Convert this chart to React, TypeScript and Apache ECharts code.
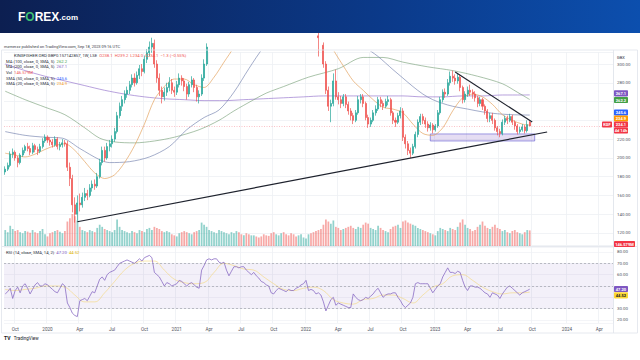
import React, { useEffect, useRef } from "react";
import * as echarts from "echarts";

// ---------- DATA ----------
const START_UTC = Date.UTC(2019, 8, 2); // first weekly bar (Mon)
const DAY = 86400000;
const AXIS_WEEKS = 245; // axis runs into 2024

// weekly candles [open, close, low, high] (GBX)
const ohlc: number[][] = [
  [185,188,182,191],[188,192,186,195],[192,204,190,207],[204,206,200,210],[206,200,197,208],[200,195,190,202],[195,203,193,205],[203,208,201,211],[208,212,205,214],[212,210,207,216],
  [210,206,203,213],[206,213,204,216],[213,209,206,215],[209,207,203,212],[207,212,205,215],[212,218,210,221],[218,222,216,225],[222,219,216,224],[219,217,213,222],[217,214,211,220],
  [214,220,212,223],[220,212,209,222],[212,214,208,217],[214,216,211,220],[216,215,212,219],[215,190,186,218],[190,178,170,195],[178,150,142,182],[150,140,131,158],[140,152,133,160],
  [152,150,143,162],[150,158,147,163],[158,162,154,168],[162,160,155,166],[160,168,158,172],[168,172,164,176],[172,170,166,177],[170,180,168,184],[180,195,178,199],[195,208,192,212],
  [208,200,196,212],[200,212,198,216],[212,215,207,219],[215,220,211,224],[220,228,217,232],[228,245,226,249],[245,255,242,259],[255,262,250,266],[262,268,258,272],[268,272,264,276],
  [272,278,268,282],[278,285,275,289],[285,280,276,290],[280,288,278,292],[288,295,284,299],[295,292,287,300],[292,305,290,309],[305,312,301,316],[312,318,308,324],[318,322,312,328],
  [322,300,296,326],[300,285,280,304],[285,272,266,290],[272,265,258,276],[265,270,261,275],[270,275,266,280],[275,280,271,286],[280,272,268,284],[272,270,265,276],[270,278,267,282],
  [278,285,275,290],[285,282,277,288],[282,276,271,285],[276,268,262,279],[268,278,265,281],[278,283,275,287],[283,275,270,285],[275,265,260,278],[265,268,258,272],[268,285,266,289],
  [285,300,282,305],[300,318,298,322],[318,325,314,330],[325,330,320,335],[330,335,326,340],[335,340,330,345],[340,345,335,350],[345,355,341,360],[355,360,350,365],[360,365,355,370],
  [365,368,360,373],[368,372,363,377],[372,380,368,385],[380,385,375,392],[385,375,370,388],[375,372,366,380],[372,378,368,382],[378,365,360,380],[365,360,354,368],[360,370,357,374],
  [370,375,365,380],[375,372,367,378],[372,368,362,376],[368,360,355,370],[360,355,350,363],[355,345,340,358],[345,342,336,349],[342,338,332,346],[338,335,330,342],[335,340,331,344],
  [340,345,336,349],[345,350,341,354],[350,348,343,353],[348,340,336,351],[340,338,333,344],[338,335,330,341],[335,332,327,339],[332,330,325,336],[330,335,327,338],[335,338,331,342],
  [338,340,334,344],[340,342,336,346],[342,345,338,349],[345,340,335,348],[340,335,330,343],[335,330,325,338],[330,328,308,334],[328,320,314,331],[320,300,296,323],[300,272,268,303],
  [272,255,250,276],[255,258,238,262],[258,282,255,290],[282,265,262,294],[265,262,257,270],[262,258,253,266],[258,265,255,268],[265,257,253,268],[257,250,246,260],[250,245,240,253],
  [245,240,236,248],[240,248,238,251],[248,262,246,266],[262,265,258,268],[265,258,254,268],[258,243,240,260],[243,236,232,246],[236,240,233,243],[240,248,238,251],[248,252,245,256],
  [252,262,250,265],[262,258,254,265],[258,255,251,261],[255,260,253,263],[260,262,256,266],[262,248,245,264],[248,240,236,250],[240,238,233,243],[238,245,236,248],[245,250,242,254],
  [250,222,218,253],[222,215,210,225],[215,208,203,218],[208,205,200,211],[205,212,203,215],[212,225,210,228],[225,238,222,241],[238,244,235,247],[244,240,236,247],[240,236,232,243],
  [236,232,228,239],[232,235,229,238],[235,230,226,237],[230,234,228,236],[234,248,232,251],[248,262,246,265],[262,270,259,273],[270,268,264,274],[268,280,266,284],[280,287,277,292],
  [287,285,281,293],[285,282,278,289],[282,286,279,290],[286,275,271,288],[275,262,258,277],[262,268,259,271],[268,272,265,276],[272,270,266,278],[270,268,263,273],[268,264,260,271],
  [264,258,254,266],[258,262,255,265],[262,255,251,264],[255,250,246,257],[250,242,238,252],[242,245,238,248],[245,240,236,248],[240,232,229,242],[232,228,224,234],[228,226,222,231],
  [226,238,224,241],[238,242,235,245],[242,240,236,245],[240,244,238,247],[244,238,235,246],[238,234,230,240],[234,228,225,236],[228,230,226,233],[230,233,228,236],[233,229,226,235],[229,235.4,227,240],[238.1,234.1,234.0,239.2],
];

// weekly volume, millions
const volumeM: number[] = [
  150,130,190,160,140,150,130,120,140,135,125,150,130,120,140,160,110,90,
  120,130,140,150,135,120,140,230,260,300,280,240,
  180,150,140,130,150,140,130,170,200,180,160,150,140,130,
  150,250,180,150,140,130,120,140,130,120,150,140,130,160,170,150,
  180,170,160,140,130,140,130,110,100,90,
  120,130,140,130,120,110,130,140,150,220,200,180,
  150,140,130,120,150,140,130,120,110,130,120,140,130,110,100,120,110,100,
  100,90,80,90,110,100,95,120,130,110,100,120,130,110,100,120,110,90,100,110,80,70,110,120,130,140,
  150,160,200,250,230,210,240,180,170,150,160,170,180,190,170,160,180,170,200,220,
  210,170,160,150,190,170,150,140,130,160,180,190,200,170,230,240,220,210,200,190,
  170,160,150,140,130,120,110,100,140,170,160,150,140,170,160,150,180,220,250,200,
  170,160,140,150,180,200,230,190,170,160,180,200,170,160,140,150,130,120,140,150,130,120,110,130,150,146.579,
];

// RSI(14) weekly
const rsi: number[] = [
  43,45,48,39,46,49,44,50,52,48,
  43,47,51,53,50,50,52,51,49,47,
  45,44,48,52,50,35,31,26,24,23,
  37,38,39,37,41,45,44,50,56,58,
  55,60,62,63,64,67,70,71,72,73,
  72,71,70,72,74,72,75,76,77,75,
  62,60,58,54,50,53,52,50,51,52,
  55,54,52,50,52,53,51,49,48,64,
  68,73,74,73,74,74,71,70,71,64,
  59,63,67,67,66,67,67,64,62,60,
  62,59,57,54,53,51,50,44,43,46,
  48,47,46,45,47,46,46,48,49,51,
  52,55,46,47,46,43,44,42,36,28,
  33,38,40,33,35,34,33,32,31,31,
  43,40,38,37,38,40,39,41,43,46,
  48,44,40,42,43,43,44,44,40,37,
  33,31,33,35,40,52,53,52,52,52,
  52,48,44,47,50,52,58,62,66,62,
  62,61,63,62,55,49,46,50,50,49,
  49,48,46,44,43,40,44,43,42,39,
  43,46,49,50,48,46,44,42,44,45,46,47.2,
];

// [week index, value] samples
const rsiMa: number[][] = [[0,47],[4,46],[8,47],[12,48],[16,50],[20,50],[24,49],[28,42],[32,36],[36,36],[40,44],[44,54],[48,64],[52,70],[56,72],[60,72],[64,64],[68,56],[72,53],[76,52],[80,53],[84,62],[88,70],[92,68],[96,65],[100,64],[104,58],[108,52],[112,47],[116,46],[120,48],[124,49],[128,46],[132,38],[136,35],[140,34],[144,38],[148,39],[152,42],[156,42],[160,39],[164,35],[168,42],[172,49],[176,52],[180,59],[184,60],[188,55],[192,49],[196,45],[200,43],[204,44],[208,44],[211,44.52]];
const ma20: number[][] = [[0,205],[4,203],[8,201],[12,204],[16,209],[20,213],[24,215],[28,208],[32,196],[36,184],[40,178],[44,182],[48,195],[52,213],[56,236],[60,262],[64,276],[68,284],[72,284],[76,278],[80,275],[84,286],[88,302],[92,318],[96,338],[100,355],[104,366],[108,368],[112,360],[116,350],[120,342],[124,338],[128,335],[132,315],[136,298],[140,282],[144,272],[148,262],[152,254],[156,252],[160,248],[164,236],[168,226],[172,224],[176,232],[180,250],[184,264],[188,268],[192,265],[196,257],[200,246],[204,240],[208,236],[211,234.9]];
const ma50: number[][] = [[0,228],[8,224],[16,222],[23,221],[30,210],[38,198],[42,195],[50,196],[58,201],[66,212],[73,230],[80,243],[86,251],[92,270],[98,295],[104,318],[112,340],[120,352],[126,355],[132,350],[138,340],[144,320],[150,308],[156,294],[160,285],[164,276],[168,268],[172,262],[176,258],[180,255],[186,252],[192,249],[198,247],[204,246],[211,245.6]];
const ma100: number[][] = [[0,271],[8,262],[16,254],[24,246],[32,232],[38,221],[44,217],[52,216],[60,218],[68,222],[78,230],[86,240],[92,250],[100,262],[105,269],[112,276],[122,286],[134,295],[144,307],[152,307],[160,302],[170,297],[180,293],[190,287],[200,279],[206,270],[211,262.2]];
const ma200: number[][] = [[0,300],[8,293],[16,287],[24,282],[32,277],[40,272],[48,268],[56,265],[64,263],[72,262],[80,261],[88,261],[96,262],[104,263],[112,264],[120,265],[128,266],[136,266],[144,266],[152,266],[160,266],[168,265],[176,265],[184,266],[192,266],[200,267],[208,267],[211,267.1]];

// drawings: [week index, price]
const trendUp = [[29, 132], [218, 227.6]];
const trendDown = [[181, 291.5], [212, 238.2]];
const zoneBox = [[171, 225.5], [213, 218]];
const lastPrice = 234.1;
const rsiLevels = [70, 50, 30];
// axis labels that sit under the value tags in the reference
const hiddenPriceLabels = [240, 260];
const hiddenRsiLabels = [40, 50];

// ---------- helpers ----------
const FONT = 'Roboto, "Noto Sans", "DejaVu Sans", sans-serif';
const UP = "#26a69a";
const DN = "#ef5350";
const weekLabels = Array.from({ length: AXIS_WEEKS }, (_, k) =>
  new Date(START_UTC + k * 7 * DAY).toISOString().slice(0, 10)
);
const weekEnd = (k: number) => new Date(START_UTC + k * 7 * DAY + 6 * DAY);
const isQuarter = (k: number) => {
  const e = weekEnd(k);
  return e.getUTCDate() <= 7 && e.getUTCMonth() % 3 === 0;
};
const quarterLabel = (k: number) => {
  const e = weekEnd(k);
  const m = e.getUTCMonth();
  if (m === 0) return String(e.getUTCFullYear());
  return ["", "Apr", "Jul", "Oct"][m / 3];
};
const toCat = (pts: number[][]) => pts.map(([k, v]) => [weekLabels[k], v]);

const txt = (x: number, y: number, text: string, fill: string, size: number, extra: any = {}) => ({
  type: "text",
  z: 50,
  silent: true,
  style: { text, x, y, fill, fontSize: size, fontFamily: FONT, verticalAlign: "middle", textVerticalAlign: "middle", ...extra },
});
const richTxt = (x: number, y: number, text: string, rich: any) => ({
  type: "text",
  z: 50,
  silent: true,
  style: { text, x, y, fontSize: 4.2, fontFamily: FONT, verticalAlign: "middle", textVerticalAlign: "middle", rich },
});
const tag = (x: number, y: number, w: number, text: string, bg: string, fg = "#ffffff") => [
  { type: "rect", z: 60, silent: true, shape: { x, y: y - 3.1, width: w, height: 6.2, r: 0.8 }, style: { fill: bg } },
  {
    type: "text", z: 61, silent: true,
    style: { text, x: x + w / 2, y, fill: fg, fontSize: 4, fontFamily: FONT, fontWeight: "bold", align: "center", textAlign: "center", verticalAlign: "middle", textVerticalAlign: "middle" },
  },
];

const R = (c: string) => ({ fill: c, fontSize: 4.2, fontFamily: FONT });

export default function App() {
  const ref = useRef<HTMLDivElement>(null);
  useEffect(() => {
    document.body.style.margin = "0";
    if (!ref.current) return;
    const chart = echarts.init(ref.current, undefined, { renderer: "svg" });

    const splitX = { show: true, interval: (i: number) => isQuarter(i), lineStyle: { color: "#eef0f4", width: 0.8 } };
    const volData = volumeM.map((v, k) => ({
      value: v,
      itemStyle: { color: ohlc[k][1] >= ohlc[k][0] ? "rgba(38,166,154,0.5)" : "rgba(239,83,80,0.5)" },
    }));
    const maLine = (data: number[][], color: string) => ({
      type: "line", xAxisIndex: 0, yAxisIndex: 0, data: toCat(data), symbol: "none", smooth: 0.3,
      connectNulls: true, silent: true, z: 2, lineStyle: { color, width: 0.9 },
    });
    const blackLine = { color: "#1e222d", width: 1.2, type: "solid" };

    const graphics: any[] = [
      {
        type: "rect", z: 40, silent: true, shape: { x: 0, y: 0, width: 640, height: 33 },
        style: { fill: new echarts.graphic.LinearGradient(0, 0, 1, 0, [{ offset: 0, color: "#0c1f51" }, { offset: 0.6, color: "#0b3a8a" }, { offset: 1, color: "#0c4fae" }]) },
      },
      {
        type: "text", z: 50, silent: true,
        style: {
          x: 18, y: 17, verticalAlign: "middle", textVerticalAlign: "middle",
          text: "{w|F}{g|O}{w|REX}{s|.com}",
          rich: {
            w: { fill: "#ffffff", fontSize: 12, fontWeight: "bold", fontFamily: '"Liberation Sans", Arial, sans-serif' },
            g: { fill: "#3fbf74", fontSize: 12, fontWeight: "bold", fontFamily: '"Liberation Sans", Arial, sans-serif' },
            s: { fill: "#ffffff", fontSize: 8, fontWeight: "bold", fontFamily: '"Liberation Sans", Arial, sans-serif' },
          },
        },
      },
      txt(4, 46, "mzmerzz published on TradingView.com, Sep 18, 2023 09:16 UTC", "#3a3d47", 4),
      richTxt(14, 55.5, "{d|KINGFISHER ORD GBP0.157142857, 1W, LSE}  {r|O238.1  H239.2  L234.0  C234.1  −1.3 (−0.55%)}", { d: R("#2a2e39"), r: R("#ef5350") }),
      richTxt(6, 61.2, "{d|MA (100, close, 0, SMA, 5)}  {g|262.2}", { d: R("#2a2e39"), g: R("#43a047") }),
      richTxt(6, 66.8, "{d|MA (200, close, 0, SMA, 5)}  {p|267.1}", { d: R("#2a2e39"), p: R("#7e57c2") }),
      richTxt(6, 72.4, "{d|Vol}  {r|146.579M}", { d: R("#2a2e39"), r: R("#ef5350") }),
      richTxt(6, 78.0, "{d|SMA (50, close, 0, SMA, 5)}  {b|245.6}", { d: R("#2a2e39"), b: R("#2962ff") }),
      richTxt(6, 83.6, "{d|SMA (20, close, 0, SMA, 5)}  {o|234.9}", { d: R("#2a2e39"), o: R("#f59c1a") }),
      richTxt(6, 252.5, "{d|RSI (14, close, SMA, 14, 2)}  {p|47.20}  {y|44.52}", { d: R("#2a2e39"), p: R("#7e57c2"), y: R("#e0b400") }),
      txt(617, 57, "GBX", "#2a2e39", 4),
      ...tag(614, 93.3, 14, "267.1", "#7e57c2"),
      ...tag(614, 100, 14, "262.2", "#43a047"),
      ...tag(614, 112.5, 14, "245.6", "#2962ff"),
      ...tag(614, 118.5, 14, "234.9", "#ff9800"),
      ...tag(614, 124.5, 14, "234.1", "#f23645"),
      ...tag(614, 130.5, 14, "4d 14h", "#f23645"),
      ...tag(602, 124.5, 10, "KGF", "#f23645"),
      ...tag(614, 244, 21, "146.579M", "#f23645"),
      ...tag(614, 289, 14, "47.20", "#7e57c2"),
      ...tag(614, 295.3, 14, "44.52", "#fdd835", "#131722"),
      { type: "line", z: 45, silent: true, shape: { x1: 613.5, y1: 50, x2: 613.5, y2: 333 }, style: { stroke: "#e0e3eb", lineWidth: 0.8 } },
      { type: "line", z: 45, silent: true, shape: { x1: 2, y1: 246.5, x2: 637, y2: 246.5 }, style: { stroke: "#e0e3eb", lineWidth: 0.8 } },
      { type: "rect", z: 45, silent: true, shape: { x: 1.5, y: 50, width: 636, height: 283 }, style: { fill: "none", stroke: "#e0e3eb", lineWidth: 0.8 } },
      {
        type: "text", z: 50, silent: true,
        style: {
          x: 4, y: 338, verticalAlign: "middle", textVerticalAlign: "middle",
          text: "{t|TV} {n|TradingView}",
          rich: { t: { fill: "#131722", fontSize: 5, fontWeight: "bold", fontFamily: FONT }, n: { fill: "#131722", fontSize: 4.5, fontFamily: FONT } },
        },
      },
    ];

    const option: any = {
      animation: false,
      backgroundColor: "#ffffff",
      textStyle: { fontFamily: FONT },
      grid: [
        { left: 4, width: 609, top: 52, height: 193 },
        { left: 4, width: 609, top: 196, height: 50 },
        { left: 4, width: 609, top: 247, height: 76 },
      ],
      xAxis: [0, 1, 2].map((g) => ({
        type: "category",
        gridIndex: g,
        data: weekLabels,
        boundaryGap: true,
        axisLine: { show: false },
        axisTick: { show: false },
        axisLabel:
          g === 2
            ? { show: true, interval: (i: number) => isQuarter(i), formatter: (_v: string, i: number) => quarterLabel(i), fontSize: 4.6, color: "#50535e", margin: 4, fontFamily: FONT }
            : { show: false },
        splitLine: g === 1 ? { show: false } : splitX,
      })),
      yAxis: [
        {
          type: "value", gridIndex: 0, position: "right", min: 107.2, max: 312.8, splitNumber: 10, minInterval: 20, maxInterval: 20,
          axisLine: { show: false }, axisTick: { show: false },
          axisLabel: {
            fontSize: 4.4, color: "#50535e", margin: 4, showMinLabel: false, showMaxLabel: false, fontFamily: FONT,
            formatter: (v: number) => (hiddenPriceLabels.includes(Math.round(v)) ? "" : v.toFixed(2)),
          },
          splitLine: { show: true, lineStyle: { color: "#eef0f4", width: 0.8 } },
        },
        { type: "value", gridIndex: 1, min: 0, max: 470, show: false, splitLine: { show: false } },
        {
          type: "value", gridIndex: 2, position: "right", min: 17.35, max: 84.41, splitNumber: 7, minInterval: 10, maxInterval: 10,
          axisLine: { show: false }, axisTick: { show: false },
          axisLabel: {
            fontSize: 4.4, color: "#50535e", margin: 4, showMinLabel: false, showMaxLabel: false, fontFamily: FONT,
            formatter: (v: number) => (hiddenRsiLabels.includes(Math.round(v)) ? "" : v.toFixed(2)),
          },
          splitLine: { show: true, lineStyle: { color: "#f1f2f6", width: 0.8 } },
        },
      ],
      series: [
        { type: "bar", xAxisIndex: 1, yAxisIndex: 1, data: volData, barWidth: "70%", z: 1, silent: true },
        maLine(ma200, "rgba(149,117,205,0.75)"),
        maLine(ma100, "rgba(120,160,120,0.7)"),
        maLine(ma50, "rgba(110,125,170,0.7)"),
        maLine(ma20, "rgba(226,160,90,0.75)"),
        {
          type: "candlestick", xAxisIndex: 0, yAxisIndex: 0, data: ohlc, barWidth: "62%", z: 3, silent: true,
          itemStyle: { color: UP, color0: DN, borderColor: UP, borderColor0: DN, borderWidth: 0.7 },
          markLine: {
            silent: true, symbol: ["none", "none"], label: { show: false }, animation: false,
            data: [
              [{ coord: [weekLabels[trendUp[0][0]], trendUp[0][1]], lineStyle: blackLine }, { coord: [weekLabels[trendUp[1][0]], trendUp[1][1]] }],
              [{ coord: [weekLabels[trendDown[0][0]], trendDown[0][1]], lineStyle: blackLine }, { coord: [weekLabels[trendDown[1][0]], trendDown[1][1]] }],
              { yAxis: lastPrice, lineStyle: { color: "rgba(242,54,69,0.5)", width: 0.6, type: [1, 1.5] } },
            ],
          },
          markArea: {
            silent: true,
            itemStyle: { color: "rgba(126,87,194,0.2)", borderColor: "rgba(98,90,210,0.75)", borderWidth: 0.8 },
            data: [[{ coord: [weekLabels[zoneBox[0][0]], zoneBox[0][1]] }, { coord: [weekLabels[zoneBox[1][0]], zoneBox[1][1]] }]],
          },
        },
        {
          type: "line", xAxisIndex: 2, yAxisIndex: 2, data: toCat(rsiMa), symbol: "none", smooth: 0.4, connectNulls: true, silent: true, z: 2,
          lineStyle: { color: "rgba(245,210,100,0.65)", width: 0.8 },
        },
        {
          type: "line", xAxisIndex: 2, yAxisIndex: 2, data: rsi, symbol: "none", silent: true, z: 3,
          lineStyle: { color: "#8a6cc4", width: 0.8 },
          markArea: { silent: true, itemStyle: { color: "rgba(126,87,194,0.09)" }, data: [[{ yAxis: rsiLevels[0] }, { yAxis: rsiLevels[2] }]] },
          markLine: {
            silent: true, symbol: ["none", "none"], label: { show: false },
            lineStyle: { color: "#9598a1", width: 0.6, type: [2, 2] },
            data: rsiLevels.map((v) => ({ yAxis: v })),
          },
        },
      ],
      graphic: { elements: graphics },
    };
    chart.setOption(option);
    return () => chart.dispose();
  }, []);
  return <div ref={ref} style={{ width: 640, height: 360 }} />;
}
